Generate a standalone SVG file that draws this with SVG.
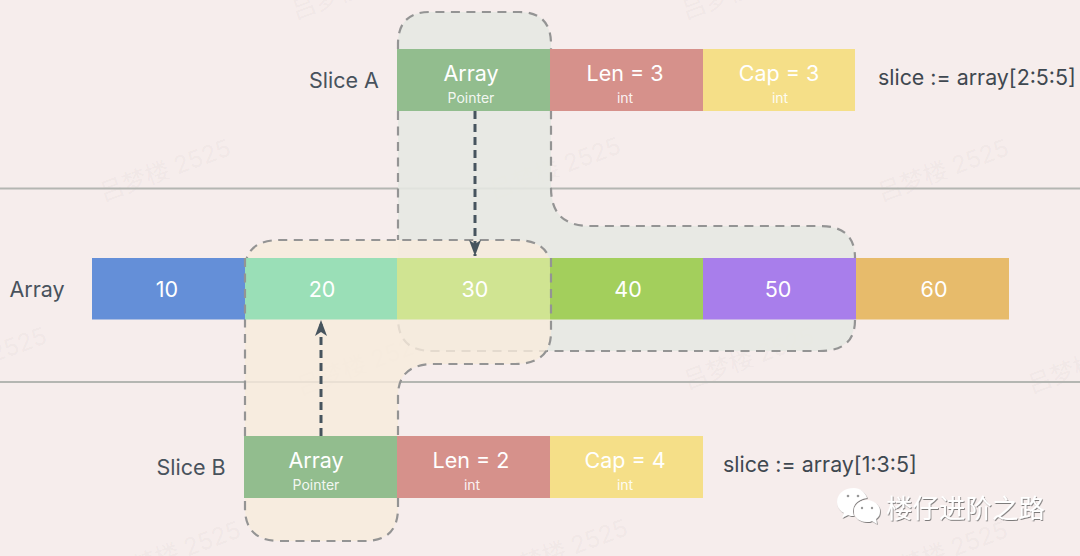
<svg xmlns="http://www.w3.org/2000/svg" width="1080" height="556" viewBox="0 0 1080 556">
<style>
text{font-family:"Inter","Noto Sans CJK SC",sans-serif}
.l{font-size:21.500px;fill:#48525c;text-anchor:middle}
.t{font-size:21.500px;fill:#fff;text-anchor:middle}
.s{font-size:14px;fill:#fff;text-anchor:middle;fill-opacity:.9}
.c{font-size:21.400px;fill:#3f4850}
.w{font-size:24px;fill:#6b6b6b;fill-opacity:.055;text-anchor:middle}
.o{stroke:#949494;stroke-width:2.2;stroke-dasharray:9 6.500;fill:none}
.h{stroke:#b4b6b2;stroke-width:2}
.a{stroke:#47545e;stroke-width:3;stroke-dasharray:8 5;fill:none}
</style>
<defs>
<marker id="ah" markerUnits="userSpaceOnUse" markerWidth="16" markerHeight="12" refX="16" refY="6" orient="auto" viewBox="0 0 16 12"><path d="M0 0L16 6L0 12L4 6Z" fill="#47545e"/></marker>
<filter id="sh" x="-10%" y="-10%" width="120%" height="130%"><feDropShadow dx="0.8" dy="1" stdDeviation="0.5" flood-color="#555" flood-opacity=".75"/></filter>
</defs>
<rect width="1080" height="556" fill="#f6edec"/>
<g id="watermarks">
<text class="w" transform="translate(168 178) rotate(-20)">吕梦楼 2525</text>
<text class="w" transform="translate(558 176) rotate(-20)">吕梦楼 2525</text>
<text class="w" transform="translate(946 178) rotate(-20)">吕梦楼 2525</text>
<text class="w" transform="translate(365 372) rotate(-20)">吕梦楼 2525</text>
<text class="w" transform="translate(752 366) rotate(-20)">吕梦楼 2525</text>
<text class="w" transform="translate(1096 370) rotate(-20)">吕梦楼 2525</text>
<text class="w" transform="translate(-16 366) rotate(-20)">吕梦楼 2525</text>
<text class="w" transform="translate(178 560) rotate(-20)">吕梦楼 2525</text>
<text class="w" transform="translate(565 558) rotate(-20)">吕梦楼 2525</text>
<text class="w" transform="translate(945 560) rotate(-20)">吕梦楼 2525</text>
<text class="w" transform="translate(360 -4) rotate(-20)">吕梦楼 2525</text>
<text class="w" transform="translate(750 -4) rotate(-20)">吕梦楼 2525</text>
</g>
<g id="separators">
<line class="h" x1="0" y1="188.500" x2="1080" y2="188.500"/>
<line class="h" x1="0" y1="382" x2="1080" y2="382"/>
</g>
<g id="slice-a-region">
<path d="M398 49V44Q398 12 430 12H519Q551 12 551 44V188Q551 226 590 226H820Q855 226 855 258V318Q855 351 820 351H432Q398 351 398 318V110" fill="#e6e8e2" fill-opacity=".88"/>
<path class="o" d="M398 49V44Q398 12 430 12H519Q551 12 551 44V188Q551 226 590 226H820Q855 226 855 258M855 320Q855 351 820 351H432Q398 351 398 318M398 111V240"/>
</g>
<g id="slice-b-region">
<path d="M245 270Q245 240 280 240H515Q551 240 551 270V332Q551 364 515 364H434Q398 364 398 396V508Q398 541 365 541H280Q245 541 245 508Z" fill="#f8ebdc" fill-opacity=".8"/>
<path class="o" d="M245 436V270Q245 240 280 240H515Q551 240 551 270V332Q551 364 515 364H434Q398 364 398 396V436M398 498V508Q398 541 365 541H280Q245 541 245 508V498"/>
</g>
<g id="array">
<rect x="92" y="258" width="153" height="61.500" fill="#648fd8"/>
<rect x="245" y="258" width="152" height="61.500" fill="#9adfb7"/>
<rect x="397" y="258" width="153" height="61.500" fill="#d0e492"/>
<rect x="550" y="258" width="153" height="61.500" fill="#a3cf5c"/>
<rect x="703" y="258" width="153" height="61.500" fill="#a87eeb"/>
<rect x="856" y="258" width="153" height="61.500" fill="#e7bb6b"/>
<text class="l" x="37" y="297">Array</text>
<text class="t" x="167" y="297">10</text>
<text class="t" x="322" y="297">20</text>
<text class="t" x="475" y="297">30</text>
<text class="t" x="628" y="297">40</text>
<text class="t" x="778" y="297">50</text>
<text class="t" x="934" y="297">60</text>
</g>
<path class="o" d="M245 258V320M551 258V320"/>
<g id="slice-a">
<rect x="397" y="49" width="153" height="62" fill="#92bd8e"/>
<rect x="550" y="49" width="153" height="62" fill="#d6918b"/>
<rect x="703" y="49" width="152" height="62" fill="#f5df88"/>
<text class="l" x="344" y="88">Slice A</text>
<text class="t" x="471" y="81">Array</text>
<text class="s" x="471" y="103">Pointer</text>
<text class="t" x="625" y="81">Len = 3</text>
<text class="s" x="625" y="103">int</text>
<text class="t" x="779" y="81">Cap = 3</text>
<text class="s" x="780" y="103">int</text>
<text class="c" x="878" y="85">slice := array[2:5:5]</text>
</g>
<g id="slice-b">
<rect x="244" y="436" width="153" height="62" fill="#92bd8e"/>
<rect x="397" y="436" width="153" height="62" fill="#d6918b"/>
<rect x="550" y="436" width="153" height="62" fill="#f5df88"/>
<text class="l" x="191" y="475">Slice B</text>
<text class="t" x="316" y="468">Array</text>
<text class="s" x="316" y="490">Pointer</text>
<text class="t" x="471" y="468">Len = 2</text>
<text class="s" x="472" y="490">int</text>
<text class="t" x="625" y="468">Cap = 4</text>
<text class="s" x="625" y="490">int</text>
<text class="c" x="723" y="472">slice := array[1:3:5]</text>
</g>
<g id="connectors">
<line class="a" x1="475" y1="111" x2="475" y2="256" marker-end="url(#ah)"/>
<line class="a" x1="321" y1="436" x2="321" y2="320" marker-end="url(#ah)"/>
</g>
<g id="logo" filter="url(#sh)">
<path d="M854 488C844 488 837 494 837 502C837 507 840 511 844 513L842 518L848 515C850 516 852 516 854 516C853 514 853 513 853 511C853 504 859 499 867 498C865 492 860 488 854 488Z" fill="#fff"/>
<path d="M867 500C860 500 854 505 854 511C854 518 860 522 867 522C869 522 870 522 872 521L877 524L876 519C879 517 880 514 880 511C880 505 874 500 867 500Z" fill="#fff"/>
<circle cx="848" cy="496" r="1.300" fill="#999"/><circle cx="858" cy="496" r="1.300" fill="#999"/>
<circle cx="862" cy="508" r="1.200" fill="#999"/><circle cx="872" cy="508" r="1.200" fill="#999"/>
<text x="886" y="518" font-size="26.500" fill="#fff" style="font-family:'Noto Sans CJK SC',sans-serif">楼仔进阶之路</text>
</g>
</svg>
